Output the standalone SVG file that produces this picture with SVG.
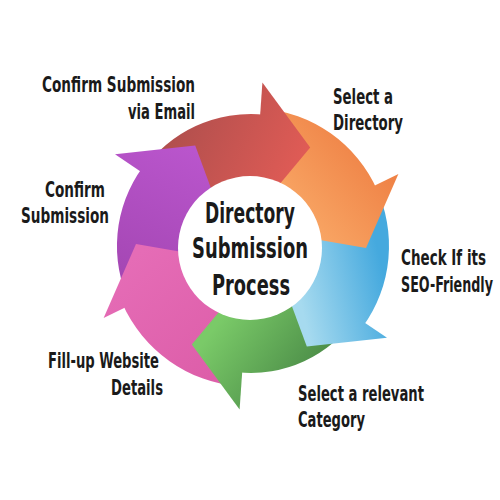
<svg xmlns="http://www.w3.org/2000/svg" width="500" height="500" viewBox="0 0 500 500">
<defs>
<linearGradient id="gRed" gradientUnits="userSpaceOnUse" x1="170" y1="130" x2="300" y2="190"><stop offset="0" stop-color="#b04f4d"/><stop offset="1" stop-color="#e35c56"/></linearGradient>
<linearGradient id="gOrange" gradientUnits="userSpaceOnUse" x1="380" y1="160" x2="300" y2="230"><stop offset="0" stop-color="#ef8246"/><stop offset="1" stop-color="#f9a866"/></linearGradient>
<linearGradient id="gBlue" gradientUnits="userSpaceOnUse" x1="300" y1="300" x2="385" y2="280"><stop offset="0" stop-color="#a6daef"/><stop offset="1" stop-color="#45a9de"/></linearGradient>
<linearGradient id="gGreen" gradientUnits="userSpaceOnUse" x1="220" y1="320" x2="300" y2="380"><stop offset="0" stop-color="#7aca68"/><stop offset="1" stop-color="#4f914a"/></linearGradient>
<linearGradient id="gPink" gradientUnits="userSpaceOnUse" x1="130" y1="260" x2="220" y2="370"><stop offset="0" stop-color="#e56cb6"/><stop offset="1" stop-color="#dd5ea9"/></linearGradient>
<linearGradient id="gPurple" gradientUnits="userSpaceOnUse" x1="190" y1="150" x2="130" y2="290"><stop offset="0" stop-color="#b955cc"/><stop offset="1" stop-color="#a346b2"/></linearGradient>
</defs>
<style>
.lbl{font-family:"Liberation Sans Narrow","DejaVu Sans Condensed","Liberation Sans",sans-serif;font-weight:bold;font-size:21px;fill:#1a1a1a}
.ctr{font-family:"Liberation Sans Narrow","DejaVu Sans Condensed","Liberation Sans",sans-serif;font-weight:bold;font-size:29px;fill:#1a1a1a;text-anchor:middle}
</style>
<g id="connectors">
<g id="bands">
<path fill="url(#gRed)" d="M142.2 171.2 A132 132 0 0 1 264.8 114.7 L257.3 186.3 A60 60 0 0 0 201.6 212 Z"/>
<path fill="url(#gOrange)" d="M261.8 108.4 A138 138 0 0 1 377.1 189.9 L305.8 221.6 A60 60 0 0 0 255.7 186.2 Z"/>
<path fill="url(#gBlue)" d="M375.6 186.6 A138 138 0 0 1 362.6 327.1 L299.5 281.3 A60 60 0 0 0 305.2 220.2 Z"/>
<path fill="url(#gGreen)" d="M355.7 317.9 A127 127 0 0 1 237.7 372.3 L244.7 305.7 A60 60 0 0 0 300.4 280 Z"/>
<path fill="url(#gPink)" d="M239.9 386.6 A141 141 0 0 1 122.2 303.3 L196.2 270.4 A60 60 0 0 0 246.3 305.8 Z"/>
<path fill="url(#gPurple)" d="M130 303.7 A134 134 0 0 1 142.6 167.2 L202.5 210.7 A60 60 0 0 0 196.8 271.8 Z"/>
</g>
<g id="heads">
<path fill="url(#gRed)" d="M262.4 82.4 L310.2 147.4 L253.1 216.1 Z"/>
<path fill="url(#gOrange)" d="M398.4 174.1 L366 248 L278 232.8 Z"/>
<path fill="url(#gBlue)" d="M387 337.7 L306.8 346.6 L275.9 262.8 Z"/>
<path fill="url(#gGreen)" d="M239.6 409.6 L191.8 344.6 L248.9 275.9 Z"/>
<path fill="url(#gPink)" d="M103.6 317.9 L136 244 L224 259.2 Z"/>
<path fill="url(#gPurple)" d="M115 154.3 L195.2 145.4 L226.1 229.2 Z"/>
</g>
</g>
<g id="center">
<circle cx="250" cy="248" r="72" fill="#ffffff"/>
<text class="ctr" x="250" y="223" textLength="90" lengthAdjust="spacingAndGlyphs">Directory</text>
<text class="ctr" x="250" y="258" textLength="116" lengthAdjust="spacingAndGlyphs">Submission</text>
<text class="ctr" x="251" y="295" textLength="78" lengthAdjust="spacingAndGlyphs">Process</text>
</g>
<g id="n-confirm-email">
<text class="lbl" x="42" y="92" textLength="153" lengthAdjust="spacingAndGlyphs">Confirm Submission</text>
<text class="lbl" x="128" y="119" textLength="67" lengthAdjust="spacingAndGlyphs">via Email</text>
</g>
<g id="n-select-directory">
<text class="lbl" x="333" y="104" textLength="60" lengthAdjust="spacingAndGlyphs">Select a</text>
<text class="lbl" x="333" y="130" textLength="70" lengthAdjust="spacingAndGlyphs">Directory</text>
</g>
<g id="n-check-seo">
<text class="lbl" x="401" y="265" textLength="85" lengthAdjust="spacingAndGlyphs">Check If its</text>
<text class="lbl" x="401" y="292" textLength="92" lengthAdjust="spacingAndGlyphs">SEO-Friendly</text>
</g>
<g id="n-select-category">
<text class="lbl" x="298" y="401" textLength="126" lengthAdjust="spacingAndGlyphs">Select a relevant</text>
<text class="lbl" x="298" y="427" textLength="67" lengthAdjust="spacingAndGlyphs">Category</text>
</g>
<g id="n-fill-details">
<text class="lbl" x="48" y="368" textLength="111" lengthAdjust="spacingAndGlyphs">Fill-up Website</text>
<text class="lbl" x="111" y="395" textLength="52" lengthAdjust="spacingAndGlyphs">Details</text>
</g>
<g id="n-confirm">
<text class="lbl" x="45" y="197" textLength="60" lengthAdjust="spacingAndGlyphs">Confirm</text>
<text class="lbl" x="21" y="223" textLength="88" lengthAdjust="spacingAndGlyphs">Submission</text>
</g>
</svg>
